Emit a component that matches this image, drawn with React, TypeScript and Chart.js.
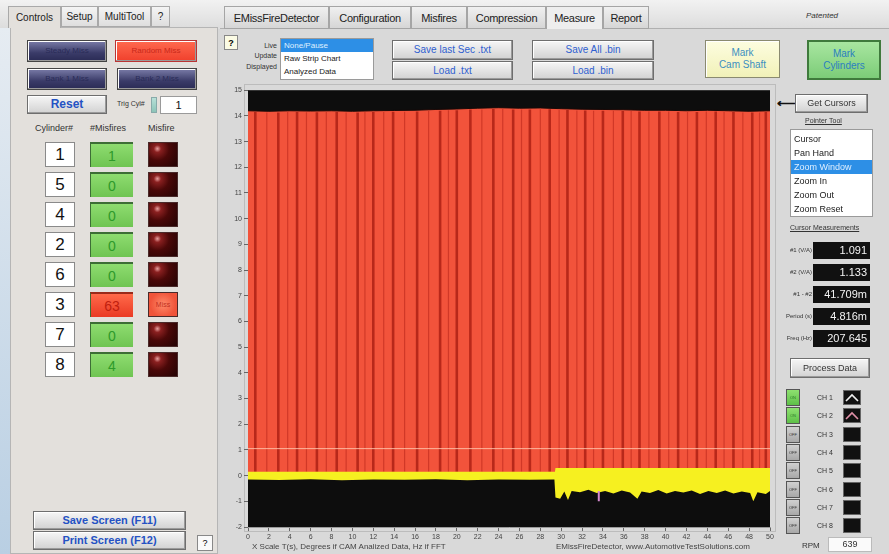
import React, { useEffect, useRef } from 'react';
import { Chart, registerables } from 'chart.js';
Chart.register(...registerables);

// ---------- chart data ----------
const X_MIN = 0;
const X_MAX = 50;
const X_STEP = 2;
const Y_MIN = -2;
const Y_MAX = 15;
const Y_STEP = 1;

const redTopX = [0, 2, 4, 6, 8, 10, 12, 14, 16, 18, 20, 22, 24, 26, 28, 30, 32, 34, 36, 38, 40, 42, 44, 46, 48, 50];
const redTopY = [14.2, 14.18, 14.2, 14.19, 14.2, 14.18, 14.2, 14.21, 14.22, 14.25, 14.27, 14.3, 14.32, 14.3, 14.31, 14.28, 14.26, 14.25, 14.24, 14.22, 14.22, 14.2, 14.22, 14.2, 14.18, 14.2];

const yellowTopX = [0, 29.4, 29.45, 50];
const yellowTopY = [0.15, 0.15, 0.3, 0.3];

const yellowBottomX = [0, 3, 6, 9, 12, 15, 18, 21, 24, 27, 29.35, 29.45, 29.9, 30.3, 30.65, 31.0, 31.8, 32.6, 33.4, 34.2, 35.0, 35.8, 36.6, 37.3, 37.7, 38.5, 39.3, 40.1, 40.9, 41.7, 42.5, 43.3, 44.1, 44.9, 45.7, 46.5, 47.3, 48.1, 48.4, 48.8, 49.6, 50];
const yellowBottomY = [-0.15, -0.17, -0.14, -0.18, -0.15, -0.16, -0.14, -0.18, -0.15, -0.16, -0.15, -0.85, -0.9, -0.62, -0.95, -0.6, -0.65, -0.55, -0.68, -0.6, -0.7, -0.58, -0.66, -0.9, -0.62, -0.68, -0.56, -0.7, -0.6, -0.66, -0.58, -0.72, -0.6, -0.68, -0.58, -0.7, -0.62, -0.68, -1.0, -0.65, -0.72, -0.6];

const stripeX = [0.7, 2.9, 4.7, 6.6, 8.5, 10.5, 12.0, 13.9, 16.2, 18.4, 20.0, 21.3, 23.5, 25.4, 27.0, 28.9, 30.6, 32.3, 34.0, 35.9, 37.5, 39.4, 41.2, 43.0, 44.8, 46.5, 48.3, 49.6];
const stripeMinorX = [1.8, 3.8, 5.6, 7.5, 9.4, 11.2, 13.0, 15.0, 17.3, 19.2, 22.4, 24.4, 26.2, 28.0, 29.8, 31.5, 33.1, 35.0, 36.7, 38.4, 40.3, 42.1, 43.9, 45.6, 47.4, 49.0];

const refLineX = [0, 50];
const refLineY = [1.05, 1.05];

const spikeX = [33.6, 33.6];
const spikeY = [-0.6, -1.0];

// ---------- panel data ----------
const cylinders = [1, 5, 4, 2, 6, 3, 7, 8];
const misfires = [1, 0, 0, 0, 0, 63, 0, 4];
const midTabs = ['EMissFireDetector', 'Configuration', 'Misfires', 'Compression', 'Measure', 'Report'];
const pointerTools = ['Cursor', 'Pan Hand', 'Zoom Window', 'Zoom In', 'Zoom Out', 'Zoom Reset'];
const cursorLabels = ['#1 (V/A)', '#2 (V/A)', '#1 - #2', 'Period (s)', 'Freq (Hz)'];
const cursorValues = ['1.091', '1.133', '41.709m', '4.816m', '207.645'];
const channels = ['CH 1', 'CH 2', 'CH 3', 'CH 4', 'CH 5', 'CH 6', 'CH 7', 'CH 8'];
const channelOn = [true, true, false, false, false, false, false, false];

const FONT = "'Liberation Sans', Arial, sans-serif";

const pts = (xs: number[], ys: number[]) => xs.map((x, i) => ({ x, y: ys[i] }));
const yellowTopAt = (x: number) => {
  for (let i = yellowTopX.length - 1; i >= 0; i--) if (x >= yellowTopX[i]) return yellowTopY[i];
  return yellowTopY[0];
};
const redTopAt = (x: number) => {
  let best = 0;
  for (let i = 0; i < redTopX.length; i++) if (Math.abs(redTopX[i] - x) < Math.abs(redTopX[best] - x)) best = i;
  return redTopY[best];
};
const stripePts = (xs: number[]) => {
  const out: any[] = [];
  xs.forEach((x) => {
    out.push({ x, y: yellowTopAt(x) });
    out.push({ x, y: redTopAt(x) - 0.05 });
    out.push({ x, y: null });
  });
  return out;
};

const bgPlugin = {
  id: 'plotBg',
  beforeDatasetsDraw(chart: any) {
    const { ctx, chartArea } = chart;
    ctx.save();
    ctx.fillStyle = '#0d0d0d';
    ctx.fillRect(chartArea.left, chartArea.top, chartArea.right - chartArea.left, chartArea.bottom - chartArea.top);
    ctx.restore();
  },
};

function PlotChart() {
  const ref = useRef<HTMLCanvasElement>(null);
  useEffect(() => {
    if (!ref.current) return;
    const chart = new Chart(ref.current, {
      type: 'line',
      data: {
        datasets: [
          {
            label: 'spike',
            data: pts(spikeX, spikeY),
            borderColor: '#d68ad0',
            borderWidth: 2,
            pointRadius: 0,
            fill: false,
            order: 0,
          },
          {
            label: 'ref',
            data: pts(refLineX, refLineY),
            borderColor: 'rgba(255,200,175,0.85)',
            borderWidth: 1,
            pointRadius: 0,
            fill: false,
            order: 1,
          },
          {
            label: 'yellowBottom',
            data: pts(yellowBottomX, yellowBottomY),
            borderColor: '#0d0d0d',
            backgroundColor: '#0d0d0d',
            borderWidth: 0,
            pointRadius: 0,
            fill: 'start',
            order: 3,
          },
          {
            label: 'yellowTop',
            data: pts(yellowTopX, yellowTopY),
            borderColor: '#f6f020',
            backgroundColor: '#f6f020',
            borderWidth: 0,
            pointRadius: 0,
            fill: 'start',
            order: 4,
          },
          {
            label: 'stripesMinor',
            data: stripePts(stripeMinorX),
            borderColor: 'rgba(200,50,35,0.8)',
            borderWidth: 1.2,
            pointRadius: 0,
            fill: false,
            spanGaps: false,
            order: 4.6,
          },
          {
            label: 'stripes',
            data: stripePts(stripeX),
            borderColor: '#b8281a',
            borderWidth: 2.6,
            pointRadius: 0,
            fill: false,
            spanGaps: false,
            order: 4.5,
          },
          {
            label: 'redTop',
            data: pts(redTopX, redTopY),
            borderColor: '#1a0a08',
            backgroundColor: '#f2533b',
            borderWidth: 1,
            pointRadius: 0,
            fill: 'start',
            order: 5,
          },
        ],
      },
      options: {
        animation: false,
        responsive: false,
        maintainAspectRatio: false,
        layout: { padding: { left: 0, right: 7, top: 4, bottom: 7 } },
        plugins: { legend: { display: false }, tooltip: { enabled: false } },
        scales: {
          x: {
            type: 'linear',
            min: X_MIN,
            max: X_MAX,
            afterFit: (s: any) => { s.height = 20; },
            ticks: { stepSize: X_STEP, color: '#444', font: { size: 7, family: FONT }, padding: 2, maxRotation: 0, autoSkip: false },
            grid: { drawOnChartArea: false, drawTicks: true, tickLength: 4, color: '#666' },
            border: { color: '#9a9a9a' },
          },
          y: {
            type: 'linear',
            min: Y_MIN,
            max: Y_MAX,
            afterFit: (s: any) => { s.width = 26; },
            ticks: { stepSize: Y_STEP, color: '#444', font: { size: 7, family: FONT }, padding: 2, autoSkip: false },
            grid: { drawOnChartArea: false, drawTicks: true, tickLength: 4, color: '#666' },
            border: { color: '#9a9a9a' },
          },
        },
      },
      plugins: [bgPlugin],
    } as any);
    return () => chart.destroy();
  }, []);
  return <canvas ref={ref} width={555} height={470} style={{ position: 'absolute', left: 222, top: 84, width: 555, height: 470 }} />;
}

// ---------- UI helpers ----------
const abs = (l: number, t: number, w: number, h: number, extra: React.CSSProperties = {}): React.CSSProperties => ({
  position: 'absolute', left: l, top: t, width: w, height: h, boxSizing: 'border-box', ...extra,
});

function Btn(props: { l: number; t: number; w: number; h: number; text: string; color?: string; bg?: string; size?: number; bold?: boolean; border?: string }) {
  const { l, t, w, h, text, color = '#2f5fd0', bg = 'linear-gradient(#f6f6f6, #d2d2d2)', size = 10, bold = false, border = '1px solid #6e6e6e' } = props;
  return (
    <div style={abs(l, t, w, h, {
      background: bg, border, display: 'flex', alignItems: 'center', justifyContent: 'center',
      color, fontSize: size, fontWeight: bold ? 700 : 400, fontFamily: FONT, boxShadow: 'inset -1px -1px 0 #9a9a9a, inset 1px 1px 0 #ffffff',
      whiteSpace: 'nowrap', textAlign: 'center', lineHeight: 1.15,
    })}>{text}</div>
  );
}

function Txt(props: { l: number; t: number; text: string; size?: number; color?: string; w?: number; align?: 'left' | 'right' | 'center'; style?: React.CSSProperties }) {
  const { l, t, text, size = 9, color = '#333', w, align = 'left', style = {} } = props;
  return (
    <div style={{ position: 'absolute', left: l, top: t, width: w, fontSize: size, color, fontFamily: FONT, textAlign: align, whiteSpace: 'nowrap', lineHeight: 1, ...style }}>{text}</div>
  );
}

export default function App() {
  useEffect(() => { document.body.style.margin = '0'; }, []);
  const leftTabs = [
    { t: 'Controls', l: 8, w: 53 },
    { t: 'Setup', l: 61, w: 37 },
    { t: 'MultiTool', l: 98, w: 53 },
    { t: '?', l: 151, w: 19 },
  ];
  const midTabPos = [
    { l: 224, w: 105 }, { l: 329, w: 82 }, { l: 411, w: 56 }, { l: 467, w: 79 }, { l: 546, w: 57 }, { l: 603, w: 46 },
  ];
  return (
    <div style={{ position: 'fixed', left: 0, top: 0, width: 889, height: 554, overflow: 'hidden', background: '#d7d7d7', fontFamily: FONT }}>
      {/* top strip */}
      <div style={abs(0, 0, 889, 29, { background: 'linear-gradient(#f2f2f2, #dcdcdc)' })} />
      {/* left blue edge */}
      <div style={abs(0, 28, 10, 526, { background: 'linear-gradient(#e6ecf2, #b9cfe3)' })} />
      {/* left panel */}
      <div style={abs(10, 27, 208, 527, { background: '#e3e0dc', border: '1px solid #b5b5b5' })} />
      {leftTabs.map((tb, i) => (
        <div key={tb.t} style={abs(tb.l, 6, tb.w, i === 0 ? 22 : 21, {
          background: i === 0 ? '#e3e0dc' : 'linear-gradient(#f4f4f4,#dedede)', border: '1px solid #a9a9a9', borderBottom: i === 0 ? 'none' : '1px solid #a9a9a9',
          fontSize: 10, color: '#222', display: 'flex', alignItems: 'center', justifyContent: 'center',
        })}>{tb.t}</div>
      ))}
      <Btn l={27} t={40} w={80} h={22} text="Steady Miss" color="#2a2c58" size={8} bg="linear-gradient(#7a7ca8, #3a3b68 60%, #2a2b55)" border="1px solid #444" />
      <Btn l={115} t={40} w={82} h={22} text="Random Miss" color="#c8281a" size={8} bg="linear-gradient(#ff6a50, #f0402c)" border="1px solid #b33" />
      <Btn l={27} t={68} w={80} h={22} text="Bank 1 Miss" color="#2a2c58" size={8} bg="linear-gradient(#7a7ca8, #3a3b68 60%, #2a2b55)" border="1px solid #444" />
      <Btn l={117} t={68} w={80} h={22} text="Bank 2 Miss" color="#2a2c58" size={8} bg="linear-gradient(#7a7ca8, #3a3b68 60%, #2a2b55)" border="1px solid #444" />
      <Btn l={27} t={95} w={80} h={19} text="Reset" color="#2452c4" size={12} bold />
      <Txt l={117} t={100} text="Trig Cyl#" size={7} color="#333" />
      <div style={abs(151, 97, 6, 16, { background: 'linear-gradient(#b8e0d8,#8cc4b8)', border: '1px solid #8aa' })} />
      <div style={abs(160, 96, 37, 18, { background: '#fff', border: '1px solid #9a9a9a', fontSize: 11, color: '#111', display: 'flex', alignItems: 'center', justifyContent: 'center' })}>1</div>

      <Txt l={35} t={124} text="Cylinder#" size={9} color="#333" />
      <Txt l={90} t={124} text="#Misfires" size={9} color="#333" />
      <Txt l={148} t={124} text="Misfire" size={9} color="#333" />
      {cylinders.map((c, i) => {
        const top = 142 + i * 30;
        const bad = misfires[i] > 10;
        return (
          <React.Fragment key={i}>
            <div style={abs(45, top, 30, 25, { background: '#fff', border: '1px solid #8a8a8a', fontSize: 17, color: '#111', display: 'flex', alignItems: 'center', justifyContent: 'center' })}>{c}</div>
            <div style={abs(90, top, 43, 25, {
              background: bad ? 'linear-gradient(#ff6a4a,#ea3a24)' : 'linear-gradient(#8edc70,#6fc452)',
              borderTop: '2px solid ' + (bad ? '#9a2a1a' : '#3d6e36'), borderLeft: '1px solid #3d6e36',
              fontSize: 14, color: bad ? '#c0200f' : '#2e9a2a', display: 'flex', alignItems: 'center', justifyContent: 'center',
            })}>{misfires[i]}</div>
            <div style={abs(148, top, 30, 25, {
              background: bad ? 'radial-gradient(circle at 50% 50%, #ff8a6a, #f0543a 70%)' : 'radial-gradient(circle at 30% 25%, #e7a0a0 0, #8a2020 14%, #4a0808 45%, #2a0404 90%)',
              border: '1px solid #4a2a2a', fontSize: 7, color: '#c0301f', display: 'flex', alignItems: 'center', justifyContent: 'center',
            })}>{bad ? 'Miss' : ''}</div>
          </React.Fragment>
        );
      })}
      <Btn l={33} t={511} w={153} h={19} text="Save Screen (F11)" color="#2452c4" size={11} bold />
      <Btn l={33} t={531} w={153} h={19} text="Print Screen (F12)" color="#2452c4" size={11} bold />
      <div style={abs(197, 535, 16, 16, { background: '#fafafa', border: '1px solid #888', fontSize: 9, display: 'flex', alignItems: 'center', justifyContent: 'center' })}>?</div>

      {/* middle area */}
      <div style={abs(220, 28, 669, 526, { background: '#d9d9d9', borderTop: '1px solid #b0b0b0' })} />
      {midTabs.map((m, i) => (
        <div key={m} style={abs(midTabPos[i].l, 6, midTabPos[i].w, 23, {
          background: i === 4 ? '#eeeeee' : 'linear-gradient(#f0f0f0,#d6d6d6)', border: '1px solid #a5a5a5', borderBottom: i === 4 ? 'none' : '1px solid #a5a5a5',
          fontSize: 11, color: '#222', display: 'flex', alignItems: 'center', justifyContent: 'center', letterSpacing: -0.3,
        })}>{m}</div>
      ))}
      <Txt l={806} t={12} text="Patented" size={8} color="#333" style={{ fontStyle: 'italic' }} />
      <div style={abs(224, 35, 14, 15, { background: '#fbfbe4', border: '1px solid #888', fontSize: 9, fontWeight: 700, display: 'flex', alignItems: 'center', justifyContent: 'center' })}>?</div>
      <Txt l={240} t={42} w={37} align="right" text="Live" size={7} />
      <Txt l={240} t={52} w={37} align="right" text="Update" size={7} />
      <Txt l={240} t={63} w={37} align="right" text="Displayed" size={7} />
      <div style={abs(280, 38, 94, 42, { background: '#fff', border: '1px solid #9a9a9a' })}>
        {['None/Pause', 'Raw Strip Chart', 'Analyzed Data'].map((s, i) => (
          <div key={s} style={{ height: 13, fontSize: 8, lineHeight: '13px', paddingLeft: 3, background: i === 0 ? '#2d8fe6' : 'transparent', color: i === 0 ? '#dfefff' : '#222' }}>{s}</div>
        ))}
      </div>
      <Btn l={392} t={40} w={121} h={20} text="Save last Sec .txt" />
      <Btn l={392} t={61} w={121} h={19} text="Load .txt" />
      <Btn l={532} t={40} w={122} h={20} text="Save All .bin" />
      <Btn l={532} t={61} w={122} h={19} text="Load .bin" />
      <div style={abs(705, 40, 75, 38, { background: 'linear-gradient(#fdfde0,#f1f1b8)', border: '1px solid #8a8a70', boxShadow: 'inset 1px 1px 0 #fff', fontSize: 10, color: '#3c8fc0', display: 'flex', alignItems: 'center', justifyContent: 'center', textAlign: 'center', lineHeight: 1.2 })}>Mark<br />Cam Shaft</div>
      <div style={abs(807, 40, 74, 40, { background: 'linear-gradient(#a8e6a0,#7ccc78)', border: '2px solid #3f7a3c', fontSize: 10, color: '#2a7fc0', display: 'flex', alignItems: 'center', justifyContent: 'center', textAlign: 'center', lineHeight: 1.2 })}>Mark<br />Cylinders</div>

      {/* plot frame */}
      <div style={abs(244, 84, 532, 448, { border: '1px solid #bcbcbc', background: 'transparent' })} />
      <PlotChart />
      <Txt l={252} t={543} text="X Scale T(s), Degrees if CAM Analized Data, Hz if FFT" size={8} color="#444" />
      <Txt l={556} t={543} text="EMissFireDetector, www.AutomotiveTestSolutions.com" size={8} color="#444" />

      {/* right panel */}
      <Txt l={777} t={97} text="⟵" size={13} color="#111" style={{ fontWeight: 700 }} />
      <Btn l={795} t={94} w={73} h={19} text="Get Cursors" color="#333" size={9} />
      <Txt l={805} t={117} text="Pointer Tool" size={7} color="#333" style={{ textDecoration: 'underline' }} />
      <div style={abs(790, 129, 83, 88, { background: '#fff', border: '1px solid #9a9a9a', paddingTop: 2 })}>
        {pointerTools.map((p, i) => (
          <div key={p} style={{ height: 14, fontSize: 9, lineHeight: '14px', paddingLeft: 3, background: i === 2 ? '#2d8fe6' : 'transparent', color: i === 2 ? '#dfefff' : '#222' }}>{p}</div>
        ))}
      </div>
      <Txt l={790} t={224} text="Cursor Measurements" size={7} color="#333" style={{ textDecoration: 'underline' }} />
      {cursorLabels.map((c, i) => (
        <React.Fragment key={c}>
          <Txt l={772} t={247 + i * 22} w={40} align="right" text={c} size={6} color="#333" />
          <div style={abs(813, 242 + i * 22, 57, 17, { background: '#111', color: '#f4f4f4', fontSize: 11, textAlign: 'right', paddingRight: 3, lineHeight: '17px' })}>{cursorValues[i]}</div>
        </React.Fragment>
      ))}
      <Btn l={790} t={358} w={80} h={20} text="Process Data" color="#333" size={9} />
      {channels.map((c, i) => {
        const top = 389 + i * 18.3;
        return (
          <React.Fragment key={c}>
            <div style={abs(786, top, 14, 17, {
              background: channelOn[i] ? 'linear-gradient(#8ee070,#5ec048)' : 'linear-gradient(#d0d0d0,#a8a8a8)', border: '1px solid #555',
              fontSize: 4, color: channelOn[i] ? '#2a7a2a' : '#333', display: 'flex', alignItems: 'center', justifyContent: 'center',
            })}>{channelOn[i] ? 'ON' : 'OFF'}</div>
            <Txt l={817} t={top + 5} text={c} size={7} color="#333" />
            <div style={abs(843, top + 1, 18, 15, { background: '#111', border: '1px solid #666' })}>
              {i < 2 && (
                <svg width={16} height={13} style={{ position: 'absolute', left: 0, top: 0 }}>
                  <polyline points="2,10 8,4 14,10" fill="none" stroke={i === 0 ? '#f0f0f0' : '#e090a8'} strokeWidth={1.6} />
                </svg>
              )}
            </div>
          </React.Fragment>
        );
      })}
      <Txt l={802} t={542} text="RPM" size={8} color="#333" />
      <div style={abs(828, 537, 44, 15, { background: '#fafafa', border: '1px solid #bbb', fontSize: 9, color: '#333', textAlign: 'center', lineHeight: '13px' })}>639</div>
    </div>
  );
}
